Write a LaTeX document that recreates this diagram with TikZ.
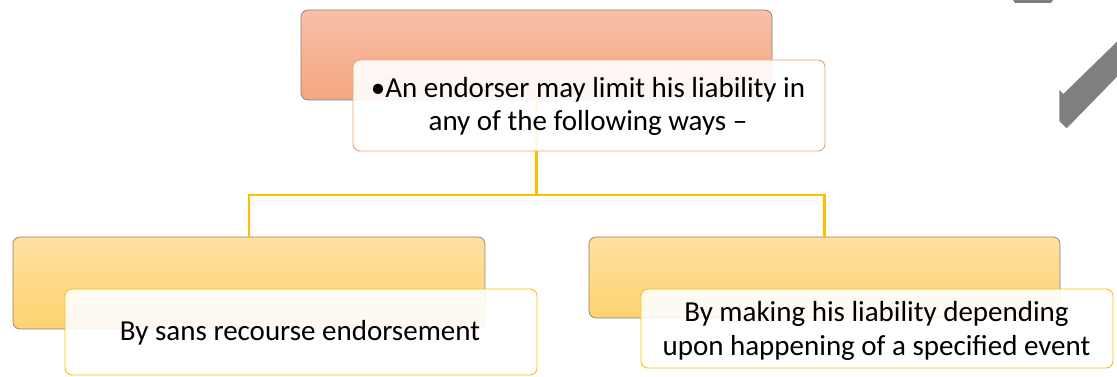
\documentclass[tikz,border=0pt]{standalone}
\usepackage{fontspec}
\setmainfont{Carlito}
\definecolor{peachtop}{HTML}{F7C0A8}
\definecolor{peachbot}{HTML}{F4A67F}
\definecolor{goldtop}{HTML}{FEE0A0}
\definecolor{goldbot}{HTML}{FED370}
\definecolor{edgegray}{HTML}{8A8078}
\definecolor{orangeline}{HTML}{F0A070}
\definecolor{goldline}{HTML}{FFC000}
\definecolor{markgray}{HTML}{7F7F7F}
\begin{document}
\begin{tikzpicture}[x=1pt,y=-1pt,
  backbox/.style={draw=edgegray, line width=0.7pt, rounded corners=7pt,
    shading=axis, shading angle=0, inner sep=0pt},
  topback/.style={backbox, top color=peachtop, bottom color=peachbot},
  lowback/.style={backbox, top color=goldtop, bottom color=goldbot},
  frontbox/.style={rounded corners=7pt, fill=white, fill opacity=0.9,
    line width=0.9pt, inner sep=0pt},
  topfront/.style={frontbox, draw=orangeline},
  lowfront/.style={frontbox, draw=goldline},
  label/.style={font=\fontsize{29}{34}\selectfont, align=center, inner sep=0pt},
  conn/.style={draw=goldline, line width=2.4pt}
]
\useasboundingbox (0,0) rectangle (1117,377);

% decorative grey marks at the upper right
\fill[markgray] (1013,0) -- (1053,0) -- (1051,3) -- (1015,3) -- cycle;
\fill[markgray] (1059.3,90) -- (1063.3,94) -- (1117,41.7) -- (1117,76.7)
  -- (1066.7,128.3) -- (1059.3,121) -- cycle;

% back panels
\node[topback, minimum width=471pt, minimum height=90pt] (tb) at (536.5,55) {};
\node[lowback, minimum width=472pt, minimum height=92pt] (lb) at (249,283) {};
\node[lowback, minimum width=471pt, minimum height=81pt] (rb) at (824.5,277.5) {};

% connectors
\coordinate (junction) at (536.5,195);
\draw[conn] (tb.south) -- (junction);
\draw[conn] (lb.north) |- (junction) -| (rb.north);

% front text panels
\node[topfront, minimum width=472pt, minimum height=91pt] (tf) at (589,105.5) {};
\node[label, font=\fontsize{29}{33}\selectfont] (tftext) at (588,106)
  {\textbullet An endorser may limit his liability in\\any of the following ways –};
\node[lowfront, minimum width=472pt, minimum height=86pt] (lf) at (301,332) {};
\node[label] (lftext) at (300,333) {By sans recourse endorsement};
\node[lowfront, minimum width=472pt, minimum height=79pt] (rf) at (877,328.5) {};
\node[label] (rftext) at (876.5,331)
  {By making his liability depending\\upon happening of a specified event};
\end{tikzpicture}
\end{document}
